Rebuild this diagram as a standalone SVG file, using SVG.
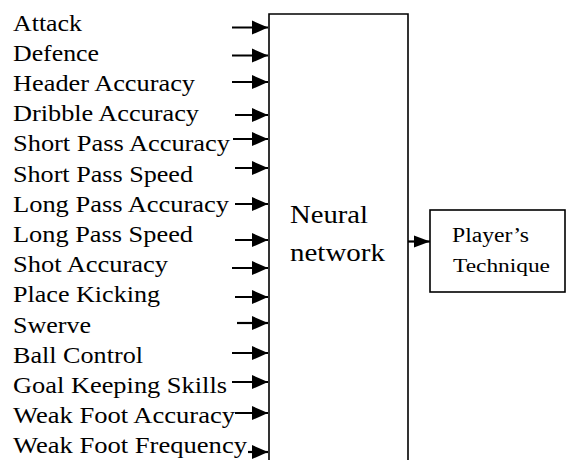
<svg xmlns="http://www.w3.org/2000/svg" width="566" height="460" viewBox="0 0 566 460">
<defs>
<marker id="ah" markerUnits="userSpaceOnUse" markerWidth="18" markerHeight="16" refX="16" refY="7" orient="auto" overflow="visible">
<path d="M0,0 L16,7 L0,14 z" fill="#000"/>
</marker>
<marker id="ah2" markerUnits="userSpaceOnUse" markerWidth="18" markerHeight="14" refX="16" refY="6" orient="auto" overflow="visible">
<path d="M0,0 L16,6 L0,12 z" fill="#000"/>
</marker>
<style>
text{font-family:'Liberation Serif','Times New Roman',serif;fill:#000}
.lbl{font-size:24px}
.box{fill:#fff;stroke:#000;stroke-width:1.6}
.arr{stroke:#000;stroke-width:2.2;fill:none}
</style>
</defs>
<rect width="566" height="460" fill="#fff"/>
<g id="inputs">
<text class="lbl" x="13" y="31" textLength="69" lengthAdjust="spacingAndGlyphs">Attack</text>
<text class="lbl" x="13" y="61" textLength="86" lengthAdjust="spacingAndGlyphs">Defence</text>
<text class="lbl" x="13" y="91" textLength="182" lengthAdjust="spacingAndGlyphs">Header Accuracy</text>
<text class="lbl" x="13" y="121" textLength="186" lengthAdjust="spacingAndGlyphs">Dribble Accuracy</text>
<text class="lbl" x="13" y="151" textLength="217" lengthAdjust="spacingAndGlyphs">Short Pass Accuracy</text>
<text class="lbl" x="13" y="182" textLength="180" lengthAdjust="spacingAndGlyphs">Short Pass Speed</text>
<text class="lbl" x="13" y="212" textLength="216" lengthAdjust="spacingAndGlyphs">Long Pass Accuracy</text>
<text class="lbl" x="13" y="242" textLength="180" lengthAdjust="spacingAndGlyphs">Long Pass Speed</text>
<text class="lbl" x="13" y="272" textLength="155" lengthAdjust="spacingAndGlyphs">Shot Accuracy</text>
<text class="lbl" x="13" y="302" textLength="147" lengthAdjust="spacingAndGlyphs">Place Kicking</text>
<text class="lbl" x="13" y="333" textLength="78" lengthAdjust="spacingAndGlyphs">Swerve</text>
<text class="lbl" x="13" y="363" textLength="130" lengthAdjust="spacingAndGlyphs">Ball Control</text>
<text class="lbl" x="13" y="393" textLength="214" lengthAdjust="spacingAndGlyphs">Goal Keeping Skills</text>
<text class="lbl" x="13" y="423" textLength="222" lengthAdjust="spacingAndGlyphs">Weak Foot Accuracy</text>
<text class="lbl" x="13" y="453" textLength="234" lengthAdjust="spacingAndGlyphs">Weak Foot Frequency</text>
</g>
<g id="neural-network">
<path class="box" d="M269,472 V14 H408 V472"/>
<text x="290" y="223" style="font-size:25px" textLength="78" lengthAdjust="spacingAndGlyphs">Neural</text>
<text x="290" y="261" style="font-size:25px" textLength="95" lengthAdjust="spacingAndGlyphs">network</text>
</g>
<g id="players-technique">
<rect class="box" x="430" y="210" width="135" height="82"/>
<text x="452" y="242" style="font-size:20px" textLength="77" lengthAdjust="spacingAndGlyphs">Player’s</text>
<text x="453" y="272" style="font-size:18px" textLength="97" lengthAdjust="spacingAndGlyphs">Technique</text>
</g>
<g id="connectors">
<line class="arr" x1="232" y1="27.5" x2="268" y2="27.5" marker-end="url(#ah)"/>
<line class="arr" x1="232" y1="55.5" x2="268" y2="55.5" marker-end="url(#ah)"/>
<line class="arr" x1="232" y1="82" x2="268" y2="82" marker-end="url(#ah)"/>
<line class="arr" x1="235" y1="115" x2="268" y2="115" marker-end="url(#ah)"/>
<line class="arr" x1="233" y1="139" x2="268" y2="139" marker-end="url(#ah)"/>
<line class="arr" x1="235" y1="168" x2="268" y2="168" marker-end="url(#ah)"/>
<line class="arr" x1="235" y1="204" x2="268" y2="204" marker-end="url(#ah)"/>
<line class="arr" x1="235" y1="240" x2="268" y2="240" marker-end="url(#ah)"/>
<line class="arr" x1="232" y1="268" x2="268" y2="268" marker-end="url(#ah)"/>
<line class="arr" x1="235" y1="297" x2="268" y2="297" marker-end="url(#ah)"/>
<line class="arr" x1="237" y1="323" x2="268" y2="323" marker-end="url(#ah)"/>
<line class="arr" x1="232" y1="353" x2="268" y2="353" marker-end="url(#ah)"/>
<line class="arr" x1="232" y1="382" x2="268" y2="382" marker-end="url(#ah)"/>
<line class="arr" x1="235" y1="413" x2="268" y2="413" marker-end="url(#ah)"/>
<line class="arr" x1="248" y1="452" x2="268" y2="452" marker-end="url(#ah)"/>
<line class="arr" x1="408" y1="241.5" x2="430" y2="241.5" marker-end="url(#ah2)"/>
</g>
</svg>
